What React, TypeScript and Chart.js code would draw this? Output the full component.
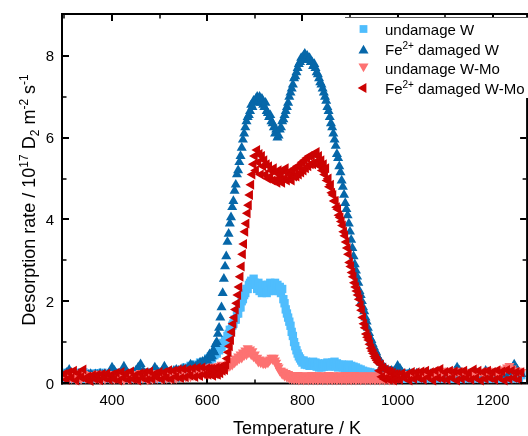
import React, { useEffect, useRef } from 'react';
import { Chart, registerables } from 'chart.js';

Chart.register(...registerables);

// Temperature (K) of each measured point (finer sampling across the desorption peaks)
const temperatureK = [
  300, 305, 310, 315, 320, 325, 330, 335, 340, 345,
  350, 355, 360, 365, 370, 375, 380, 385, 390, 395,
  400, 405, 410, 415, 420, 425, 430, 435, 440, 445,
  450, 455, 460, 465, 470, 475, 480, 485, 490, 495,
  500, 505, 510, 515, 520, 525, 530, 535, 540, 545,
  550, 555, 560, 565, 570, 575, 580, 585, 590, 595,
  600, 602.5, 605, 607.5, 610, 612.5, 615, 617.5,
  620, 622.5, 625, 627.5, 630, 632.5, 635, 637.5,
  640, 642.5, 645, 647.5, 650, 652.5, 655, 657.5,
  660, 662.5, 665, 667.5, 670, 672.5, 675, 677.5,
  680, 682.5, 685, 687.5, 690, 692.5, 695, 697.5,
  700, 702.5, 705, 707.5, 710, 712.5, 715, 717.5,
  720, 722.5, 725, 727.5, 730, 732.5, 735, 737.5,
  740, 742.5, 745, 747.5, 750, 752.5, 755, 757.5,
  760, 762.5, 765, 767.5, 770, 772.5, 775, 777.5,
  780, 782.5, 785, 787.5, 790, 792.5, 795, 797.5,
  800, 802.5, 805, 807.5, 810, 812.5, 815, 817.5,
  820, 822.5, 825, 827.5, 830, 832.5, 835, 837.5,
  840, 842.5, 845, 847.5, 850, 852.5, 855, 857.5,
  860, 862.5, 865, 867.5, 870, 872.5, 875, 877.5,
  880, 882.5, 885, 887.5, 890, 892.5, 895, 897.5,
  900, 902.5, 905, 907.5, 910, 912.5, 915, 917.5,
  920, 922.5, 925, 927.5, 930, 932.5, 935, 937.5,
  940, 942.5, 945, 947.5, 950, 952.5, 955, 957.5,
  960, 962.5, 965, 967.5, 970, 972.5, 975, 977.5,
  980, 982.5, 985, 987.5, 990, 992.5, 995, 997.5,
  1000,
  1005, 1010, 1015, 1020, 1025, 1030, 1035, 1040, 1045,
  1050, 1055, 1060, 1065, 1070, 1075, 1080, 1085, 1090, 1095,
  1100, 1105, 1110, 1115, 1120, 1125, 1130, 1135, 1140, 1145,
  1150, 1155, 1160, 1165, 1170, 1175, 1180, 1185, 1190, 1195,
  1200, 1205, 1210, 1215, 1220, 1225, 1230, 1235, 1240, 1245,
  1250, 1255, 1260,
];

// undamage W (light blue squares)
const undamagedW = [
  0.25, 0.12, 0.26, 0.1, 0.2, 0.13, 0.25, 0.1, 0.26, 0.14,
  0.22, 0.1, 0.23, 0.12, 0.24, 0.1, 0.25, 0.13, 0.21, 0.1,
  0.26, 0.12, 0.25, 0.1, 0.2, 0.14, 0.22, 0.1, 0.23, 0.12,
  0.22, 0.1, 0.27, 0.13, 0.25, 0.1, 0.26, 0.12, 0.27, 0.1,
  0.28, 0.14, 0.27, 0.12, 0.26, 0.15, 0.27, 0.13, 0.32, 0.15,
  0.3, 0.38, 0.32, 0.42, 0.36, 0.45, 0.4, 0.5, 0.45, 0.52,
  0.5, 0.6, 0.55, 0.65, 0.6, 0.7, 0.68, 0.78,
  0.72, 0.82, 0.8, 0.9, 0.88, 0.98, 0.95, 1.05,
  1.05, 1.15, 1.2, 1.3, 1.3, 1.4, 1.45, 1.55,
  1.55, 1.7, 1.7, 1.85, 1.85, 2.0, 2.05, 2.15,
  2.2, 2.3, 2.3, 2.4, 2.45, 2.5, 2.45, 2.55,
  2.45, 2.4, 2.3, 2.45, 2.25, 2.35, 2.2, 2.4,
  2.25, 2.35, 2.2, 2.4, 2.25, 2.45, 2.3, 2.4,
  2.25, 2.45, 2.3, 2.4, 2.25, 2.35, 2.2, 2.3,
  2.05, 1.95, 1.8, 1.7, 1.6, 1.5, 1.4, 1.25,
  1.15, 1.0, 0.9, 0.8, 0.72, 0.65, 0.6, 0.55,
  0.5, 0.55, 0.45, 0.52, 0.44, 0.5, 0.42, 0.5,
  0.45, 0.52, 0.42, 0.5, 0.4, 0.48, 0.38, 0.45,
  0.38, 0.45, 0.4, 0.48, 0.42, 0.5, 0.4, 0.48,
  0.42, 0.5, 0.45, 0.52, 0.4, 0.48, 0.38, 0.45,
  0.4, 0.45, 0.38, 0.44, 0.36, 0.42, 0.38, 0.45,
  0.36, 0.42, 0.32, 0.4, 0.3, 0.38, 0.28, 0.35,
  0.3, 0.33, 0.25, 0.3, 0.24, 0.28, 0.22, 0.27,
  0.22, 0.26, 0.2, 0.24, 0.18, 0.22, 0.16, 0.2,
  0.16, 0.22, 0.12, 0.2, 0.11, 0.18, 0.12, 0.2,
  0.12, 0.2, 0.11, 0.22, 0.12, 0.2, 0.1, 0.21,
  0.2,
  0.12, 0.19, 0.1, 0.23, 0.12, 0.22, 0.1, 0.21, 0.12,
  0.22, 0.1, 0.21, 0.12, 0.23, 0.1, 0.19, 0.12, 0.2, 0.1,
  0.19, 0.12, 0.2, 0.1, 0.23, 0.12, 0.18, 0.1, 0.22, 0.12,
  0.21, 0.1, 0.22, 0.12, 0.21, 0.1, 0.2, 0.12, 0.22, 0.1,
  0.21, 0.12, 0.22, 0.1, 0.21, 0.12, 0.23, 0.1, 0.2, 0.12,
  0.2, 0.1, 0.19,
];

// Fe2+ damaged W (dark blue up-triangles)
const damagedW = [
  0.2, 0.25, 0.32, 0.22, 0.18, 0.2, 0.22, 0.19, 0.21, 0.18,
  0.2, 0.22, 0.19, 0.21, 0.2, 0.23, 0.2, 0.22, 0.2, 0.24,
  0.38, 0.3, 0.22, 0.2, 0.24, 0.4, 0.28, 0.22, 0.2, 0.25,
  0.3, 0.38, 0.46, 0.3, 0.22, 0.24, 0.2, 0.26, 0.38, 0.3,
  0.22, 0.28, 0.4, 0.3, 0.25, 0.28, 0.3, 0.32, 0.3, 0.33,
  0.35, 0.32, 0.38, 0.45, 0.42, 0.4, 0.45, 0.5, 0.52, 0.55,
  0.55, 0.62, 0.7, 0.6, 0.65, 0.8, 0.75, 0.95,
  1.0, 1.2, 1.35, 1.6, 1.85, 2.2, 2.55, 2.85,
  3.1, 3.45, 3.65, 3.9, 4.05, 4.3, 4.45, 4.7,
  4.85, 5.1, 5.2, 5.4, 5.55, 5.75, 5.95, 6.1,
  6.25, 6.4, 6.5, 6.55, 6.65, 6.8, 6.75, 6.9,
  6.85, 6.95, 7.0, 6.9, 7.0, 6.85, 6.95, 6.8,
  6.75, 6.85, 6.65, 6.6, 6.5, 6.55, 6.4, 6.35,
  6.25, 6.1, 6.2, 6.0, 6.05, 6.2, 6.25, 6.4,
  6.45, 6.55, 6.65, 6.75, 6.85, 7.0, 7.1, 7.2,
  7.3, 7.45, 7.5, 7.6, 7.7, 7.8, 7.85, 7.95,
  7.9, 8.0, 8.05, 7.95, 8.0, 7.9, 7.95, 7.85,
  7.85, 7.75, 7.8, 7.7, 7.6, 7.55, 7.45, 7.35,
  7.3, 7.2, 7.1, 7.0, 6.9, 6.75, 6.65, 6.5,
  6.35, 6.25, 6.1, 5.95, 5.8, 5.6, 5.5, 5.3,
  5.15, 4.95, 4.8, 4.6, 4.4, 4.25, 4.1, 3.9,
  3.7, 3.5, 3.3, 3.1, 2.9, 2.75, 2.6, 2.45,
  2.25, 2.15, 2.0, 1.85, 1.75, 1.6, 1.5, 1.35,
  1.22, 1.1, 1.05, 0.95, 0.88, 0.8, 0.75, 0.65,
  0.6, 0.55, 0.5, 0.42, 0.4, 0.35, 0.35, 0.3,
  0.3, 0.28, 0.26, 0.3, 0.26, 0.28, 0.3, 0.35,
  0.42,
  0.35, 0.25, 0.22, 0.2, 0.24, 0.22, 0.2, 0.23, 0.21,
  0.2, 0.22, 0.25, 0.2, 0.22, 0.2, 0.24, 0.22, 0.2, 0.23,
  0.21, 0.25, 0.22, 0.2, 0.28, 0.38, 0.3, 0.22, 0.2, 0.24,
  0.22, 0.2, 0.23, 0.25, 0.22, 0.2, 0.23, 0.3, 0.26, 0.22,
  0.2, 0.24, 0.22, 0.2, 0.24, 0.22, 0.26, 0.3, 0.35, 0.45,
  0.35, 0.25, 0.22,
];

// undamage W-Mo (salmon down-triangles)
const undamagedWMo = [
  0.2, 0.1, 0.25, 0.12, 0.18, 0.08, 0.24, 0.1, 0.22, 0.12,
  0.2, 0.1, 0.18, 0.12, 0.23, 0.08, 0.22, 0.1, 0.21, 0.12,
  0.22, 0.1, 0.18, 0.12, 0.2, 0.08, 0.21, 0.1, 0.22, 0.12,
  0.2, 0.1, 0.25, 0.12, 0.2, 0.08, 0.2, 0.1, 0.24, 0.12,
  0.22, 0.1, 0.23, 0.12, 0.24, 0.1, 0.25, 0.12, 0.26, 0.14,
  0.28, 0.15, 0.32, 0.16, 0.33, 0.18, 0.32, 0.2, 0.36, 0.22,
  0.36, 0.22, 0.38, 0.25, 0.4, 0.24, 0.38, 0.28,
  0.4, 0.28, 0.42, 0.3, 0.45, 0.32, 0.42, 0.35,
  0.42, 0.38, 0.48, 0.42, 0.52, 0.45, 0.55, 0.5,
  0.6, 0.55, 0.65, 0.6, 0.7, 0.62, 0.75, 0.68,
  0.8, 0.7, 0.85, 0.75, 0.82, 0.7, 0.78, 0.65,
  0.7, 0.6, 0.62, 0.52, 0.58, 0.5, 0.55, 0.48,
  0.5, 0.48, 0.52, 0.5, 0.55, 0.58, 0.62, 0.58,
  0.62, 0.55, 0.5, 0.42, 0.38, 0.3, 0.3, 0.22,
  0.28, 0.18, 0.25, 0.15, 0.22, 0.12, 0.2, 0.1,
  0.19, 0.09, 0.18, 0.1, 0.2, 0.08, 0.18, 0.1,
  0.18, 0.08, 0.19, 0.1, 0.17, 0.08, 0.18, 0.1,
  0.2, 0.08, 0.17, 0.1, 0.19, 0.08, 0.18, 0.1,
  0.19, 0.08, 0.18, 0.1, 0.17, 0.08, 0.2, 0.1,
  0.18, 0.08, 0.19, 0.1, 0.18, 0.08, 0.17, 0.1,
  0.19, 0.08, 0.18, 0.1, 0.2, 0.08, 0.18, 0.1,
  0.17, 0.08, 0.18, 0.1, 0.2, 0.08, 0.18, 0.1,
  0.17, 0.08, 0.18, 0.1, 0.19, 0.08, 0.18, 0.1,
  0.18, 0.08, 0.17, 0.1, 0.19, 0.08, 0.18, 0.1,
  0.17, 0.08, 0.19, 0.1, 0.18, 0.08, 0.17, 0.1,
  0.18, 0.08, 0.19, 0.1, 0.2, 0.08, 0.18, 0.1,
  0.18,
  0.2, 0.17, 0.19, 0.22, 0.2, 0.18, 0.21, 0.19, 0.22,
  0.2, 0.23, 0.21, 0.19, 0.22, 0.2, 0.24, 0.21, 0.23, 0.3,
  0.28, 0.25, 0.3, 0.27, 0.24, 0.28, 0.26, 0.3, 0.27, 0.25,
  0.24, 0.22, 0.26, 0.23, 0.25, 0.28, 0.24, 0.26, 0.3, 0.27,
  0.25, 0.28, 0.24, 0.27, 0.3, 0.33, 0.38, 0.42, 0.36, 0.3,
  0.26, 0.3, 0.27,
];

// Fe2+ damaged W-Mo (dark red left-triangles)
const damagedWMo = [
  0.22, 0.08, 0.26, 0.12, 0.3, 0.06, 0.24, 0.14, 0.33, 0.1,
  0.16, 0.05, 0.19, 0.1, 0.2, 0.07, 0.22, 0.12, 0.23, 0.08,
  0.2, 0.1, 0.25, 0.06, 0.27, 0.12, 0.23, 0.08, 0.28, 0.1,
  0.19, 0.06, 0.24, 0.12, 0.26, 0.08, 0.28, 0.1, 0.22, 0.14,
  0.27, 0.09, 0.26, 0.13, 0.31, 0.1, 0.3, 0.15, 0.33, 0.12,
  0.34, 0.14, 0.33, 0.18, 0.36, 0.15, 0.37, 0.17, 0.38, 0.2,
  0.36, 0.2, 0.35, 0.22, 0.35, 0.18, 0.33, 0.22,
  0.38, 0.2, 0.36, 0.24, 0.4, 0.3, 0.38, 0.32,
  0.45, 0.6, 0.75, 0.9, 1.05, 1.25, 1.45, 1.6,
  1.8, 1.95, 2.15, 2.35, 2.6, 2.85, 3.15, 3.4,
  3.7, 3.9, 4.15, 4.35, 4.6, 4.85, 5.1, 5.35,
  5.55, 5.2, 5.7, 5.4, 5.6, 5.1, 5.55, 5.3,
  5.45, 5.1, 5.35, 5.0, 5.3, 5.05, 5.2, 4.95,
  5.25, 4.95, 5.15, 4.9, 5.2, 5.0, 5.1, 4.9,
  5.2, 5.0, 5.25, 4.95, 5.15, 5.0, 5.1, 4.95,
  5.2, 5.05, 5.25, 5.05, 5.3, 5.1, 5.3, 5.15,
  5.4, 5.2, 5.45, 5.25, 5.5, 5.3, 5.55, 5.35,
  5.55, 5.35, 5.6, 5.4, 5.65, 5.35, 5.55, 5.3,
  5.45, 5.2, 5.35, 5.1, 5.25, 4.95, 5.0, 4.8,
  4.85, 4.65, 4.6, 4.45, 4.45, 4.3, 4.25, 4.1,
  4.05, 3.95, 3.85, 3.7, 3.6, 3.45, 3.3, 3.15,
  2.95, 2.85, 2.7, 2.6, 2.45, 2.35, 2.25, 2.15,
  2.05, 1.9, 1.78, 1.6, 1.45, 1.35, 1.2, 1.12,
  1.05, 0.95, 0.85, 0.78, 0.72, 0.65, 0.6, 0.55,
  0.5, 0.3, 0.45, 0.15, 0.38, 0.1, 0.33, 0.12,
  0.3, 0.08, 0.28, 0.12, 0.25, 0.06, 0.22, 0.1,
  0.22,
  0.08, 0.24, 0.12, 0.21, 0.06, 0.27, 0.1, 0.26, 0.12,
  0.28, 0.08, 0.3, 0.14, 0.26, 0.06, 0.3, 0.12, 0.34, 0.1,
  0.26, 0.08, 0.3, 0.12, 0.28, 0.06, 0.27, 0.1, 0.3, 0.12,
  0.25, 0.08, 0.33, 0.12, 0.3, 0.06, 0.27, 0.1, 0.3, 0.12,
  0.27, 0.08, 0.31, 0.12, 0.28, 0.06, 0.32, 0.1, 0.3, 0.12,
  0.27, 0.08, 0.26,
];

const xMajorTicks = [400, 600, 800, 1000, 1200];
const xMinorTicks = [300, 500, 700, 900, 1100];
const yMajorTicks = [0, 2, 4, 6, 8];
const yMinorTicks = [1, 3, 5, 7];

type Part = { text: string; kind?: 'sup' | 'sub' };

const COLORS = {
  undamagedW: '#4fbdfd',
  damagedW: '#0667a9',
  undamagedWMo: '#fd7272',
  damagedWMo: '#cc0202',
};

type Marker = 'square' | 'up' | 'down' | 'left';

const legendEntries: { marker: Marker; color: string; parts: Part[] }[] = [
  { marker: 'square', color: COLORS.undamagedW, parts: [{ text: 'undamage W' }] },
  { marker: 'up', color: COLORS.damagedW, parts: [{ text: 'Fe' }, { text: '2+', kind: 'sup' }, { text: ' damaged W' }] },
  { marker: 'down', color: COLORS.undamagedWMo, parts: [{ text: 'undamage W-Mo' }] },
  { marker: 'left', color: COLORS.damagedWMo, parts: [{ text: 'Fe' }, { text: '2+', kind: 'sup' }, { text: ' damaged W-Mo' }] },
];

const yTitleParts: Part[] = [
  { text: 'Desorption rate / 10' },
  { text: '17', kind: 'sup' },
  { text: ' D' },
  { text: '2', kind: 'sub' },
  { text: ' m' },
  { text: '-2', kind: 'sup' },
  { text: ' s' },
  { text: '-1', kind: 'sup' },
];
const xTitle = 'Temperature / K';

const FONT = '"Liberation Sans", Arial, sans-serif';

function drawMarker(ctx: CanvasRenderingContext2D, kind: Marker, x: number, y: number, r: number, color: string) {
  ctx.save();
  ctx.fillStyle = color;
  ctx.beginPath();
  if (kind === 'square') {
    const s = Math.SQRT1_2 * r;
    ctx.rect(x - s, y - s, 2 * s, 2 * s);
  } else {
    let rad = kind === 'up' ? 0 : kind === 'down' ? Math.PI : -Math.PI / 2;
    for (let i = 0; i < 3; i++) {
      const px = x + Math.sin(rad) * r;
      const py = y - Math.cos(rad) * r;
      if (i === 0) ctx.moveTo(px, py);
      else ctx.lineTo(px, py);
      rad += (2 * Math.PI) / 3;
    }
    ctx.closePath();
  }
  ctx.fill();
  ctx.restore();
}

function drawRich(
  ctx: CanvasRenderingContext2D,
  parts: Part[],
  x: number,
  y: number,
  mainSize: number,
  scriptSize: number,
  supDy: number,
  subDy: number,
  align: 'left' | 'center'
) {
  const fontFor = (p: Part) => `${p.kind ? scriptSize : mainSize}px ${FONT}`;
  let total = 0;
  const widths = parts.map((p) => {
    ctx.font = fontFor(p);
    const w = ctx.measureText(p.text).width;
    total += w;
    return w;
  });
  let cx = align === 'center' ? x - total / 2 : x;
  ctx.textAlign = 'left';
  ctx.textBaseline = 'alphabetic';
  parts.forEach((p, i) => {
    ctx.font = fontFor(p);
    const dy = p.kind === 'sup' ? supDy : p.kind === 'sub' ? subDy : 0;
    ctx.fillText(p.text, cx, y + dy);
    cx += widths[i];
  });
}

const axesPlugin = {
  id: 'customAxes',
  beforeDatasetsDraw(chart: any) {
    const { ctx, chartArea, scales } = chart;
    const xs = scales.x;
    ctx.save();
    ctx.strokeStyle = '#000';
    ctx.lineWidth = 2;
    ctx.beginPath();
    ctx.moveTo(chartArea.left - 2, chartArea.bottom + 0.5);
    ctx.lineTo(chartArea.right, chartArea.bottom + 0.5);
    ctx.stroke();
    ctx.lineWidth = 2;
    xMajorTicks.forEach((v) => {
      const px = Math.round(xs.getPixelForValue(v));
      ctx.beginPath();
      ctx.moveTo(px, chartArea.bottom);
      ctx.lineTo(px, chartArea.bottom - 6);
      ctx.stroke();
    });
    ctx.lineWidth = 1.5;
    xMinorTicks.forEach((v) => {
      const px = Math.round(xs.getPixelForValue(v));
      ctx.beginPath();
      ctx.moveTo(px, chartArea.bottom);
      ctx.lineTo(px, chartArea.bottom - 3.5);
      ctx.stroke();
    });
    ctx.restore();
  },
  afterDatasetsDraw(chart: any) {
    const { ctx, chartArea, scales } = chart;
    const xs = scales.x;
    const ys = scales.y;
    const { left, right, top, bottom } = chartArea;
    ctx.save();
    ctx.strokeStyle = '#000';
    ctx.lineWidth = 2;
    ctx.beginPath();
    ctx.moveTo(left - 1, bottom + 1.5);
    ctx.lineTo(left - 1, top - 1);
    ctx.lineTo(right + 1, top - 1);
    ctx.lineTo(right + 1, bottom + 1.5);
    ctx.stroke();

    xMajorTicks.forEach((v) => {
      const px = Math.round(xs.getPixelForValue(v));
      ctx.lineWidth = 2;
      ctx.beginPath();
      ctx.moveTo(px, top);
      ctx.lineTo(px, top + 6);
      ctx.stroke();
    });
    xMinorTicks.forEach((v) => {
      const px = Math.round(xs.getPixelForValue(v));
      ctx.lineWidth = 1.5;
      ctx.beginPath();
      ctx.moveTo(px, top);
      ctx.lineTo(px, top + 3.5);
      ctx.stroke();
    });
    yMajorTicks.forEach((v) => {
      const py = Math.round(ys.getPixelForValue(v));
      ctx.lineWidth = 2;
      ctx.beginPath();
      ctx.moveTo(left, py);
      ctx.lineTo(left + 6, py);
      ctx.moveTo(right, py);
      ctx.lineTo(right - 6, py);
      ctx.stroke();
    });
    yMinorTicks.forEach((v) => {
      const py = Math.round(ys.getPixelForValue(v));
      ctx.lineWidth = 1.5;
      ctx.beginPath();
      ctx.moveTo(left, py);
      ctx.lineTo(left + 3.5, py);
      ctx.moveTo(right, py);
      ctx.lineTo(right - 3.5, py);
      ctx.stroke();
    });

    ctx.fillStyle = '#000';
    ctx.font = `15px ${FONT}`;
    ctx.textAlign = 'center';
    ctx.textBaseline = 'alphabetic';
    xMajorTicks.forEach((v) => {
      ctx.fillText(String(v), xs.getPixelForValue(v), bottom + 22);
    });
    ctx.textAlign = 'right';
    yMajorTicks.forEach((v) => {
      ctx.fillText(String(v), left - 9, ys.getPixelForValue(v) + 5.5);
    });

    ctx.font = `18px ${FONT}`;
    ctx.textAlign = 'center';
    ctx.fillText(xTitle, 297, 434);

    ctx.save();
    ctx.translate(35, 200);
    ctx.rotate(-Math.PI / 2);
    drawRich(ctx, yTitleParts, 0, 0, 18, 12, -7, 4, 'center');
    ctx.restore();

    ctx.fillStyle = '#fff';
    ctx.fillRect(345, 18, 200, 80);
    ctx.strokeStyle = '#555';
    ctx.lineWidth = 1;
    ctx.beginPath();
    ctx.moveTo(345, 17.5);
    ctx.lineTo(540, 17.5);
    ctx.stroke();
    const rowY = [29, 49, 68, 88];
    legendEntries.forEach((e, i) => {
      drawMarker(ctx, e.marker, 363.5, rowY[i] + (e.marker === 'up' ? 1.5 : e.marker === 'down' ? -1.5 : 0), e.marker === 'square' ? 5.5 : 5.8, e.color);
      ctx.fillStyle = '#000';
      drawRich(ctx, e.parts, 385, rowY[i] + 5.5, 15, 10, -6, 3, 'left');
    });
    ctx.restore();
  },
};

function makeSeries(values: number[]) {
  return temperatureK.map((t, i) => ({ x: t, y: values[i] }));
}

export default function App() {
  const canvasRef = useRef<HTMLCanvasElement | null>(null);

  useEffect(() => {
    const canvas = canvasRef.current;
    if (!canvas) return;
    const pointBase = { showLine: false, pointBorderWidth: 0, clip: { left: 0, top: 0, right: 0, bottom: 3 } };
    const chart = new Chart(canvas, {
      type: 'scatter',
      data: {
        datasets: [
          {
            ...pointBase,
            label: 'undamage W',
            data: makeSeries(undamagedW),
            pointStyle: 'rect',
            pointRadius: 5.9,
            backgroundColor: COLORS.undamagedW,
            borderColor: COLORS.undamagedW,
            order: 4,
          },
          {
            ...pointBase,
            label: 'Fe2+ damaged W',
            data: makeSeries(damagedW),
            pointStyle: 'triangle',
            pointRadius: 5.8,
            backgroundColor: COLORS.damagedW,
            borderColor: COLORS.damagedW,
            order: 3,
          },
          {
            ...pointBase,
            label: 'undamage W-Mo',
            data: makeSeries(undamagedWMo),
            pointStyle: 'triangle',
            pointRotation: 180,
            pointRadius: 5.8,
            backgroundColor: COLORS.undamagedWMo,
            borderColor: COLORS.undamagedWMo,
            order: 2,
          },
          {
            ...pointBase,
            label: 'Fe2+ damaged W-Mo',
            data: makeSeries(damagedWMo),
            pointStyle: 'triangle',
            pointRotation: -90,
            pointRadius: 5.8,
            backgroundColor: COLORS.damagedWMo,
            borderColor: COLORS.damagedWMo,
            order: 1,
          },
        ] as any,
      },
      options: {
        animation: false,
        responsive: false,
        devicePixelRatio: 1,
        events: [],
        layout: { padding: { left: 63, right: 2, top: 15, bottom: 53 } },
        scales: {
          x: { type: 'linear', min: 297, max: 1270, display: false },
          y: { type: 'linear', min: 0, max: 9, display: false },
        },
        plugins: {
          legend: { display: false },
          tooltip: { enabled: false },
        },
      },
      plugins: [axesPlugin],
    });
    return () => chart.destroy();
  }, []);

  return (
    <div
      style={{
        position: 'fixed',
        left: 0,
        top: 0,
        width: 528,
        height: 436,
        overflow: 'hidden',
        background: '#fff',
      }}
    >
      <canvas ref={canvasRef} width={532} height={436} style={{ width: 532, height: 436, display: 'block' }} />
    </div>
  );
}
